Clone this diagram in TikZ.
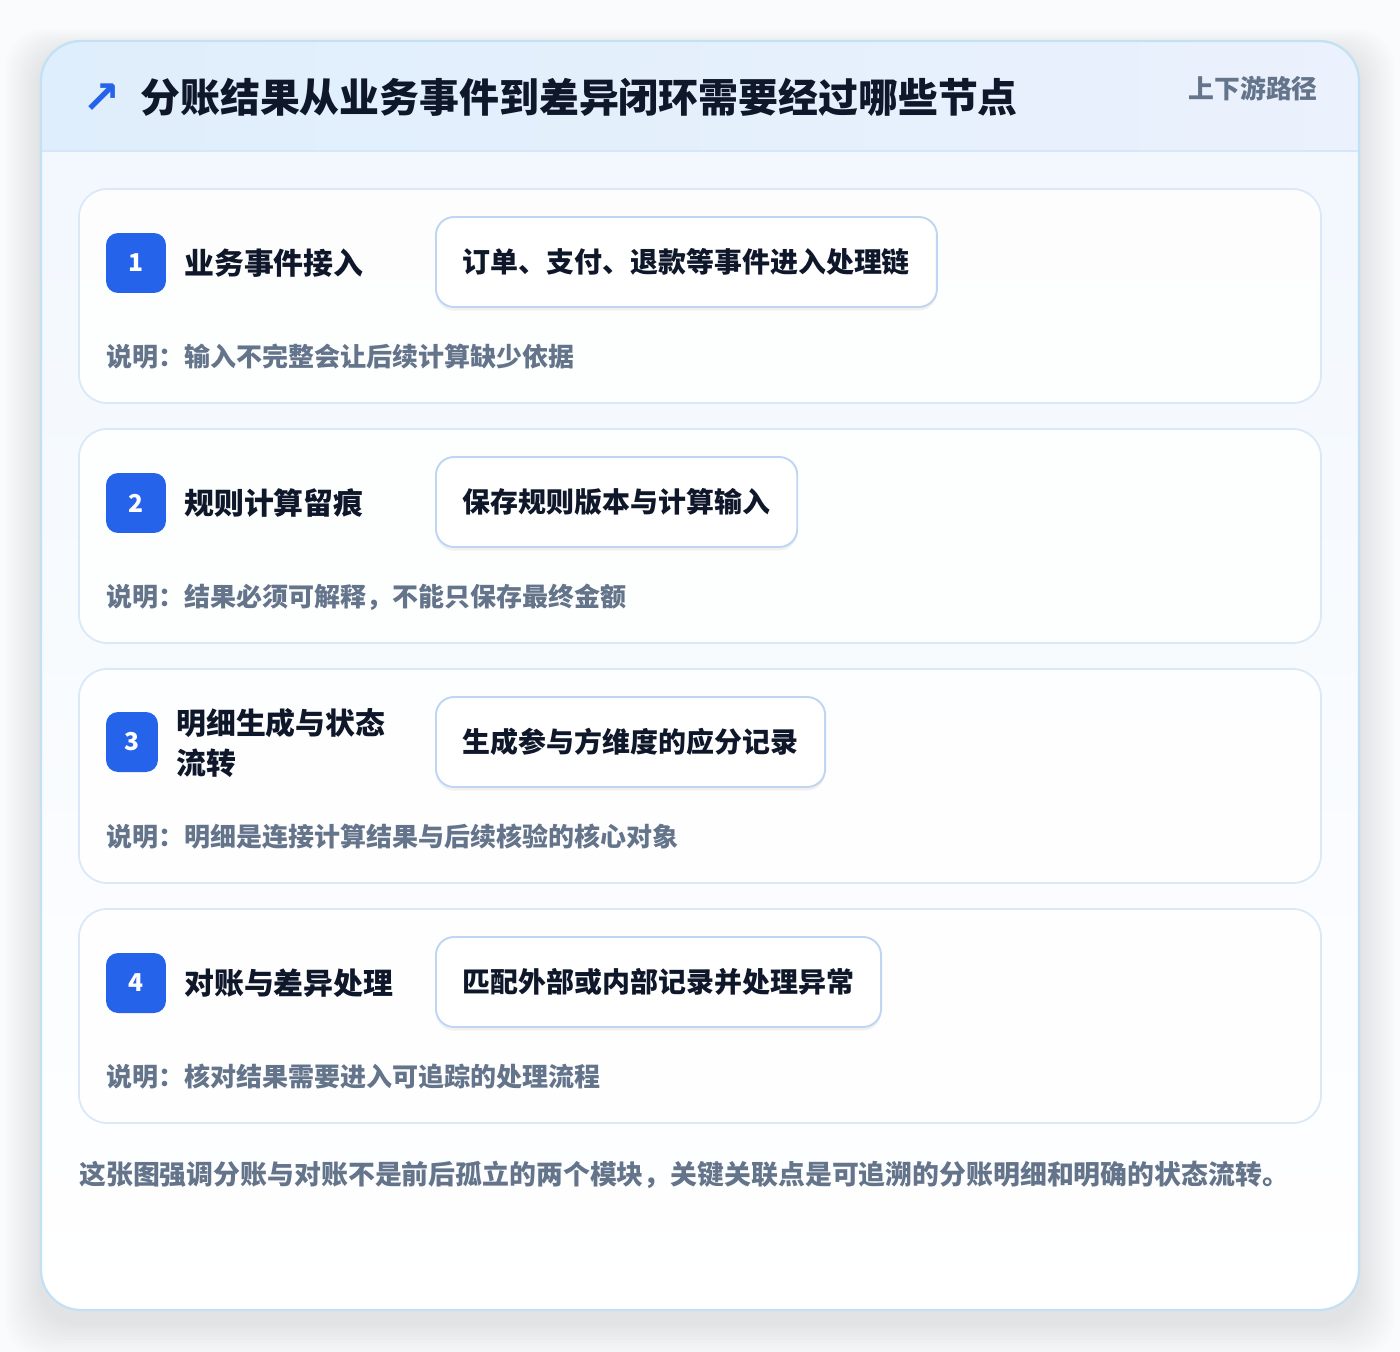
\documentclass[tikz,border=0pt]{standalone}
\usepackage{fontspec}
\setmainfont{Noto Sans CJK SC}
\newfontfamily\symfont{DejaVu Sans}
\usetikzlibrary{positioning,shadows}

\definecolor{pagebg}{HTML}{FAFBFC}
\definecolor{cardline}{HTML}{C3E1F5}
\definecolor{bodytop}{HTML}{F1F7FE}
\definecolor{headleft}{HTML}{DFEEFC}
\definecolor{headright}{HTML}{EBF1FD}
\definecolor{headline}{HTML}{D5E7F8}
\definecolor{steplinecol}{HTML}{DAE8F7}
\definecolor{boxline}{HTML}{BFD6F2}
\definecolor{badgeblue}{HTML}{2563EB}
\definecolor{inkdark}{HTML}{0F172A}
\definecolor{inkgrey}{HTML}{64748B}

\tikzset{
  stepcard/.style={draw=steplinecol,line width=1pt,fill=white,fill opacity=0.85,rounded corners=0.56cm},
  badge/.style={fill=badgeblue,rounded corners=0.24cm,minimum height=1.2cm,minimum width=1.2cm,
    text=white,font=\fontsize{14pt}{14pt}\selectfont\bfseries,inner sep=0pt},
  steptitle/.style={anchor=west,inner sep=0pt,text=inkdark,align=left,
    font=\fontsize{17pt}{22.7pt}\selectfont\bfseries},
  actionbox/.style={draw=boxline,line width=1.1pt,fill=white,rounded corners=0.36cm,
    minimum height=1.8cm,inner xsep=0.54cm,anchor=west,text=inkdark,
    font=\fontsize{15.9pt}{15.9pt}\selectfont\bfseries,
    drop shadow={shadow xshift=0pt,shadow yshift=-2pt,opacity=0.05,fill=black}},
  note/.style={anchor=west,inner sep=0pt,text=inkgrey,font=\fontsize{14.8pt}{14.8pt}\selectfont\bfseries},
}

\begin{document}
\begin{tikzpicture}[x=0.02cm,y=-0.02cm]
    % page and card shadow
    \fill[pagebg] (0,0) rectangle (1400,1352);
    \useasboundingbox (0,0) rectangle (1400,1352);
    \foreach \i in {1,...,12}
      \fill[black,opacity=0.007,rounded corners=0.8cm] ({41-3*\i},{53-2*\i}) rectangle ({1359+3*\i},{1322+3*\i});

    % outer card with header band
    \fill[top color=bodytop,bottom color=white,rounded corners=0.8cm] (41,41) rectangle (1359,1310);
    \begin{scope}
      \clip[rounded corners=0.8cm] (41,41) rectangle (1359,1310);
      \shade[left color=headleft,right color=headright] (41,41) rectangle (1359,151);
    \end{scope}
    \draw[headline,line width=1pt] (41,151) -- (1359,151);
    \draw[cardline,line width=1.3pt,rounded corners=0.8cm] (41,41) rectangle (1359,1310);

    \node[text=badgeblue,font=\symfont\fontsize{26pt}{26pt}\selectfont\bfseries,inner sep=0pt] (arrow) at (102,99) {↗};
    \node[anchor=west,inner sep=0pt,text=inkdark,font=\fontsize{22.7pt}{22.7pt}\selectfont\bfseries] (title) at (140,97) {分账结果从业务事件到差异闭环需要经过哪些节点};
    \node[anchor=east,inner sep=0pt,text=inkgrey,font=\fontsize{14.7pt}{14.7pt}\selectfont\bfseries] (tag) at (1318,89) {上下游路径};

    % Step 1
    \begin{scope}[shift={(0,189)}]
      \draw[stepcard] (79,0) rectangle (1321,214);
      \node[badge] (badge1) at (136,74) {1};
      \node[steptitle] (title1) at (184,74) {业务事件接入};
      \node[actionbox] (box1) at (435,73) {订单、支付、退款等事件进入处理链};
      \node[note] (note1) at (106,168) {说明：输入不完整会让后续计算缺少依据};
    \end{scope}
    % Step 2
    \begin{scope}[shift={(0,429)}]
      \draw[stepcard] (79,0) rectangle (1321,214);
      \node[badge] (badge2) at (136,74) {2};
      \node[steptitle] (title2) at (184,74) {规则计算留痕};
      \node[actionbox] (box2) at (435,73) {保存规则版本与计算输入};
      \node[note] (note2) at (106,168) {说明：结果必须可解释，不能只保存最终金额};
    \end{scope}
    % Step 3 (title wraps, badge narrower)
    \begin{scope}[shift={(0,669)}]
      \draw[stepcard] (79,0) rectangle (1321,214);
      \node[badge,minimum width=1.04cm] (badge3) at (132,73) {3};
      \node[steptitle] (title3) at (176,74) {明细生成与状态\\流转};
      \node[actionbox] (box3) at (435,73) {生成参与方维度的应分记录};
      \node[note] (note3) at (106,168) {说明：明细是连接计算结果与后续核验的核心对象};
    \end{scope}
    % Step 4
    \begin{scope}[shift={(0,909)}]
      \draw[stepcard] (79,0) rectangle (1321,214);
      \node[badge] (badge4) at (136,74) {4};
      \node[steptitle] (title4) at (184,74) {对账与差异处理};
      \node[actionbox] (box4) at (435,73) {匹配外部或内部记录并处理异常};
      \node[note] (note4) at (106,168) {说明：核对结果需要进入可追踪的处理流程};
    \end{scope}

    % closing remark
    \node[anchor=west,inner sep=0pt,text=inkgrey,font=\fontsize{15.3pt}{15.3pt}\selectfont\bfseries] (summary) at (79,1175) {这张图强调分账与对账不是前后孤立的两个模块，关键关联点是可追溯的分账明细和明确的状态流转。};
\end{tikzpicture}
\end{document}
